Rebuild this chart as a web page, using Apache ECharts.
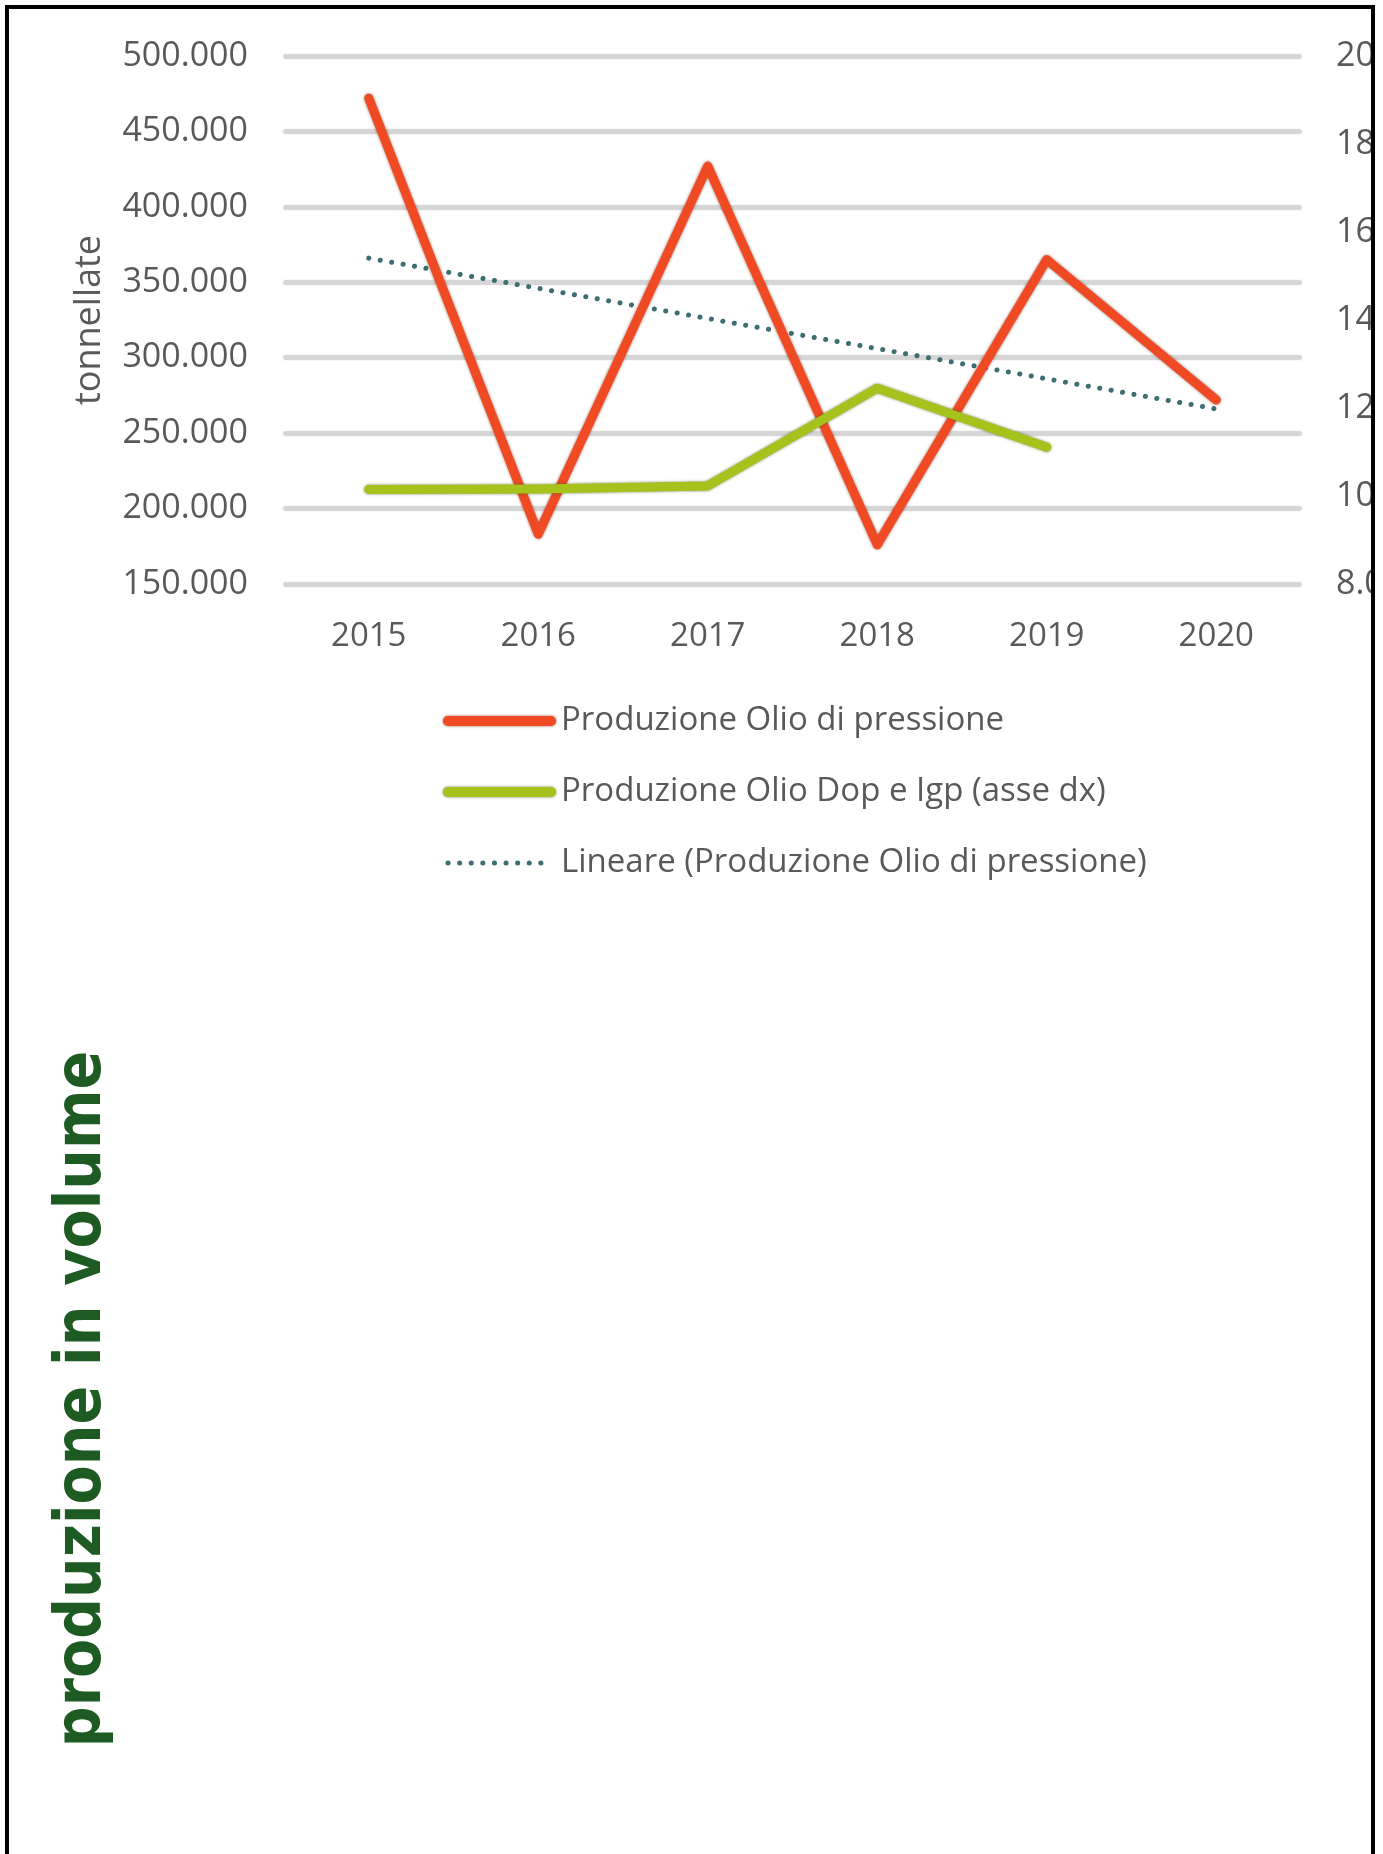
<!DOCTYPE html>
<html>
<head>
<meta charset="utf-8">
<script src="https://cdn.jsdelivr.net/npm/echarts@6/dist/echarts.min.js"></script>
<style>
  html, body { margin: 0; padding: 0; background: #fff; }
  #frame {
    position: absolute; left: 5px; top: 5px;
    width: 1362px; height: 1845px;
    border: 4px solid #000; border-bottom: none;
    overflow: hidden;
  }
  #chart { width: 1362px; height: 1845px; }
</style>
</head>
<body>
<div id="frame"><div id="chart"></div></div>
<script>
// dati
const years = ["2015", "2016", "2017", "2018", "2019", "2020"];
const olioPressione = [472000, 183000, 427000, 176000, 365000, 272000];
const olioDopIgp = [10150, 10160, 10230, 12450, 11110, null]; // asse dx
const lineare = [366000, 346000, 326000, 306000, 286000, 266000];

const leftAxis = { min: 150000, max: 500000, step: 50000 };
const rightAxis = { min: 8000, max: 20000, step: 2000 };

const nomi = [
  "Produzione Olio di pressione",
  "Produzione Olio Dop e Igp (asse dx)",
  "Lineare (Produzione Olio di pressione)",
];

const grey = "#595959";
const font = "Open Sans";

// 500000 -> "500.000"
const fmt = (v) => String(v).replace(/\B(?=(\d{3})+(?!\d))/g, ".");

const chart = echarts.init(document.getElementById("chart"));

const option = {
  animation: false,
  textStyle: { fontFamily: font },
  grid: { left: 275, top: 47, width: 1017, height: 528, outerBoundsMode: "none" },
  legend: {
    orient: "vertical",
    left: 429,
    top: 687,
    itemWidth: 103,
    itemHeight: 10,
    itemGap: 31,
    textStyle: {
      color: grey,
      fontSize: 33,
      fontFamily: font,
      lineHeight: 40,
      padding: [0, 0, 0, 5],
    },
    data: [
      {
        name: nomi[0],
        itemStyle: { opacity: 0 },
        lineStyle: { width: 10, cap: "round", shadowBlur: 3, shadowColor: "rgba(110,35,15,0.7)" },
      },
      {
        name: nomi[1],
        itemStyle: { opacity: 0 },
        lineStyle: { width: 10, cap: "round", shadowBlur: 3, shadowColor: "rgba(70,80,10,0.7)" },
      },
      {
        name: nomi[2],
        itemStyle: { opacity: 0 },
        lineStyle: { width: 5, type: [0.1, 11.5], cap: "round" },
      },
    ],
  },
  graphic: [
    {
      type: "text",
      x: 75,
      y: 1390,
      rotation: Math.PI / 2,
      scaleX: 1.02,
      scaleY: 1.13,
      style: {
        text: "produzione in volume",
        fontSize: 56,
        fontWeight: "bold",
        fontFamily: "DejaVu Sans",
        fill: "#1E5B22",
        align: "center",
        verticalAlign: "middle",
      },
    },
  ],
  xAxis: {
    type: "category",
    data: years,
    boundaryGap: true,
    axisLine: { show: false },
    axisTick: { show: false },
    axisLabel: { color: grey, fontSize: 33, margin: 36 },
  },
  yAxis: [
    {
      type: "value",
      min: leftAxis.min,
      max: leftAxis.max,
      interval: leftAxis.step,
      name: "tonnellate",
      nameLocation: "middle",
      nameRotate: 90,
      nameGap: 176,
      nameTextStyle: { color: grey, fontSize: 36 },
      axisLine: { show: false },
      axisTick: { show: false },
      axisLabel: { color: grey, fontSize: 34, margin: 36, formatter: fmt },
      splitLine: {
        lineStyle: { color: "#D6D6D6", width: 3, shadowBlur: 2, shadowColor: "rgba(0,0,0,0.6)" },
      },
    },
    {
      type: "value",
      position: "right",
      min: rightAxis.min,
      max: rightAxis.max,
      interval: rightAxis.step,
      axisLine: { show: false },
      axisTick: { show: false },
      splitLine: { show: false },
      axisLabel: { color: grey, fontSize: 34, margin: 35, formatter: fmt },
    },
  ],
  series: [
    {
      name: nomi[2],
      type: "line",
      data: lineare,
      symbol: "none",
      z: 2,
      color: "#3E6E72",
      lineStyle: { width: 5, type: [0.1, 11.5], cap: "round", color: "#3E6E72" },
    },
    {
      name: nomi[0],
      type: "line",
      data: olioPressione,
      symbol: "none",
      z: 3,
      color: "#EF4A23",
      lineStyle: {
        width: 9, cap: "round", join: "round", color: "#EF4A23",
        shadowBlur: 3, shadowColor: "rgba(110,35,15,0.7)",
      },
    },
    {
      name: nomi[1],
      type: "line",
      yAxisIndex: 1,
      data: olioDopIgp,
      symbol: "none",
      z: 4,
      color: "#A6C21D",
      lineStyle: {
        width: 9, cap: "round", join: "round", color: "#A6C21D",
        shadowBlur: 3, shadowColor: "rgba(70,80,10,0.7)",
      },
    },
  ],
};

chart.setOption(option);
</script>
</body>
</html>
